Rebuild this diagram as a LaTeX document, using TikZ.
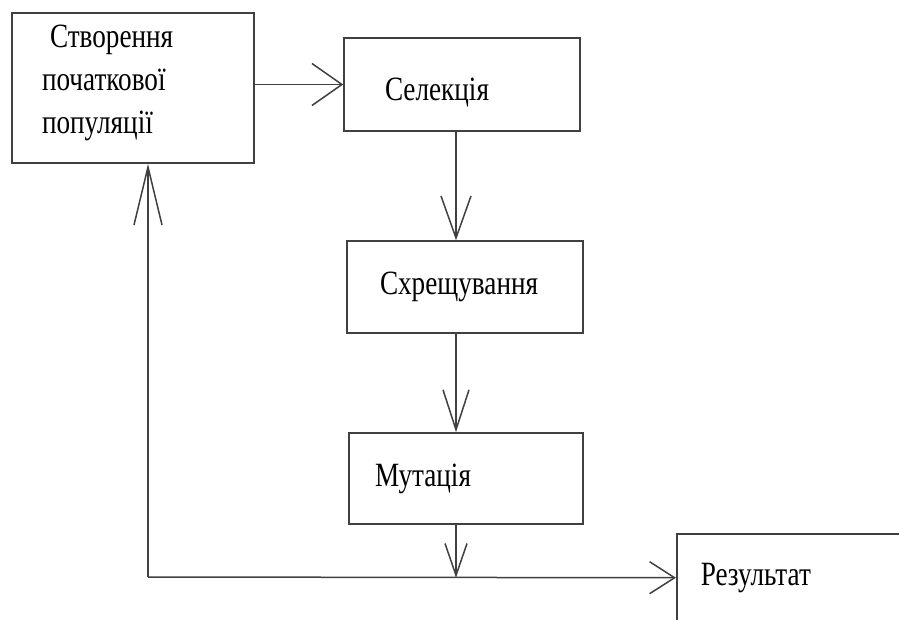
\documentclass[tikz,border=0pt]{standalone}
\usepackage{fontspec}
\setmainfont{Liberation Serif}[FakeStretch=0.8]
\usetikzlibrary{arrows.meta}
\tikzset{
  blk/.style={draw=black!75,line width=1.5pt,fill=white,align=left,inner ysep=0pt,
              font=\fontsize{34}{43}\selectfont},
  ar/.style 2 args={-{Straight Barb[length=#1,width=#2,line width=1.5pt]},line width=1.5pt,black!75},
}

\begin{document}
\begin{tikzpicture}[x=1pt,y=-1pt]
    \useasboundingbox (0,0) rectangle (899,620);
    \clip (0,0) rectangle (899,620);
    \fill[white] (0,0) rectangle (899,620);
    % boxes
    \node[blk,minimum height=150pt,inner xsep=30pt,text width=182pt,text depth=103pt] (init) at (133,88)
      {\hspace{8pt}Створення\\початкової\\популяції};
    \node[blk,minimum height=93pt,inner xsep=41pt,text width=154pt,text height=40pt,text depth=7pt] (sel) at (462,84.5) {Селекція};
    \node[blk,minimum height=92pt,inner xsep=33pt,text width=170pt] (cross) at (465,287) {Схрещування};
    \node[blk,minimum height=91pt,inner xsep=26pt,text width=182pt] (mut) at (466,478.5) {Мутація};
    \node[blk,minimum height=88pt,inner xsep=24pt,text width=212pt,anchor=north west] (res) at (676,533) {Результат};
    \coordinate (ax) at (456,0);
    \coordinate (lc) at (148,577);
    % arrows
    \draw[ar={30pt}{42pt}] (init.east |- sel.west) -- (sel.west);
    \draw[ar={42pt}{30pt}] (sel.south -| ax) -- (cross.north -| ax);
    \draw[ar={40pt}{26pt}] (cross.south -| ax) -- (mut.north -| ax);
    \draw[ar={32pt}{22pt}] (mut.south -| ax) -- (ax |- res.west);
    \draw[ar={25pt}{32pt}] (lc) -- (res.west);
    \draw[ar={58pt}{28pt}] (lc) -- (lc |- init.south);
  \end{tikzpicture}
\end{document}
